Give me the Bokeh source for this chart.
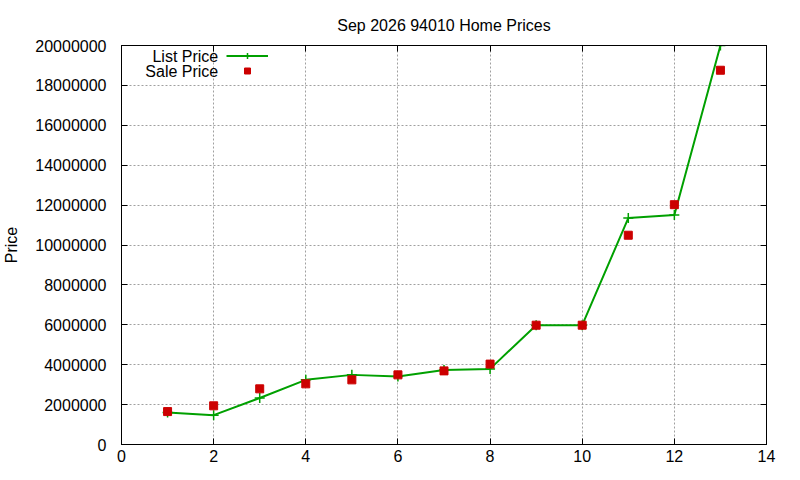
from bokeh.plotting import figure
from bokeh.models import (LinearAxis, SingleIntervalTicker, PrintfTickFormatter,
                          Legend, LegendItem, Label, Range1d)
from bokeh.embed import file_html
from bokeh.resources import INLINE

# data
months = [1, 2, 3, 4, 5, 6, 7, 8, 9, 10, 11, 12, 13]
list_price = [1600000, 1470000, 2330000, 3240000, 3490000, 3410000, 3740000,
              3790000, 5980000, 5980000, 11350000, 11500000, 20000000]
sale_price = [1650000, 1940000, 2790000, 3040000, 3240000, 3490000, 3690000,
              4030000, 5980000, 5980000, 10490000, 12020000, 18760000]

FONT = "Liberation Sans"
FSIZE = "16px"
GREEN = "#00a000"
RED = "#cc0000"

p = figure(width=784, height=464, output_backend="svg", toolbar_location=None,
           x_range=Range1d(0, 14), y_range=Range1d(0, 20000000),
           min_border_left=120, min_border_right=18,
           min_border_top=45, min_border_bottom=20,
           title="Sep 2026 94010 Home Prices")

p.title.align = "center"
p.title.text_font = FONT
p.title.text_font_size = FSIZE
p.title.text_font_style = "normal"
p.title.text_color = "black"
p.title.standoff = 16

p.outline_line_color = "black"
p.outline_line_width = 1
p.outline_line_alpha = 1

# main axes, ticks pointing inward like gnuplot
for ax in (p.xaxis[0], p.yaxis[0]):
    ax.major_tick_in = 6
    ax.major_tick_out = 0
    ax.minor_tick_line_color = None
    ax.axis_line_color = "black"
    ax.major_tick_line_color = "black"
    ax.major_label_text_font = FONT
    ax.major_label_text_font_size = FSIZE
    ax.major_label_text_color = "black"

p.xaxis.ticker = SingleIntervalTicker(interval=2)
p.yaxis.ticker = SingleIntervalTicker(interval=2000000)
p.yaxis.formatter = PrintfTickFormatter(format="%d")
p.xaxis.major_label_standoff = 1
p.yaxis.major_label_standoff = 11

p.yaxis.axis_label = "Price"
p.yaxis.axis_label_text_font = FONT
p.yaxis.axis_label_text_font_size = FSIZE
p.yaxis.axis_label_text_font_style = "normal"
p.yaxis.axis_label_text_color = "black"
p.yaxis.axis_label_standoff = 12

# mirrored tick marks on top and right, without labels
top_ax = LinearAxis(ticker=SingleIntervalTicker(interval=2))
right_ax = LinearAxis(ticker=SingleIntervalTicker(interval=2000000))
for ax in (top_ax, right_ax):
    ax.major_tick_in = 6
    ax.major_tick_out = 0
    ax.minor_tick_line_color = None
    ax.axis_line_color = "black"
    ax.major_tick_line_color = "black"
    ax.major_label_text_color = None
    ax.major_label_standoff = 0
p.add_layout(top_ax, "above")
p.add_layout(right_ax, "right")

# dotted grid
for g in (p.xgrid[0], p.ygrid[0]):
    g.grid_line_color = "#a0a0a0"
    g.grid_line_dash = "2 2"
    g.grid_line_width = 1
p.xgrid.ticker = SingleIntervalTicker(interval=2)
p.ygrid.ticker = SingleIntervalTicker(interval=2000000)

# series
list_line = p.line(months, list_price, line_color=GREEN, line_width=2)
list_pts = p.scatter(months, list_price, marker="cross", size=10,
                     line_color=GREEN, line_width=1.5)
sale_pts = p.scatter(months, sale_price, marker="square", size=8,
                     fill_color=RED, line_color=RED)

# legend: glyphs from bokeh, labels placed to their left like gnuplot
legend = Legend(items=[LegendItem(label=" ", renderers=[list_line, list_pts]),
                       LegendItem(label=" ", renderers=[sale_pts])],
                location=(105, 366), padding=0, margin=0, spacing=0,
                glyph_width=42, glyph_height=15, label_height=15, label_width=5,
                background_fill_alpha=0, border_line_color=None)
p.add_layout(legend, "center")

for txt, yv in (("List Price", 19450000), ("Sale Price", 18700000)):
    p.add_layout(Label(x=2.1, y=yv, text=txt, text_align="right",
                       text_baseline="middle", text_font=FONT,
                       text_font_size=FSIZE, text_color="black"))

open("out.html", "w").write(file_html(p, INLINE))
